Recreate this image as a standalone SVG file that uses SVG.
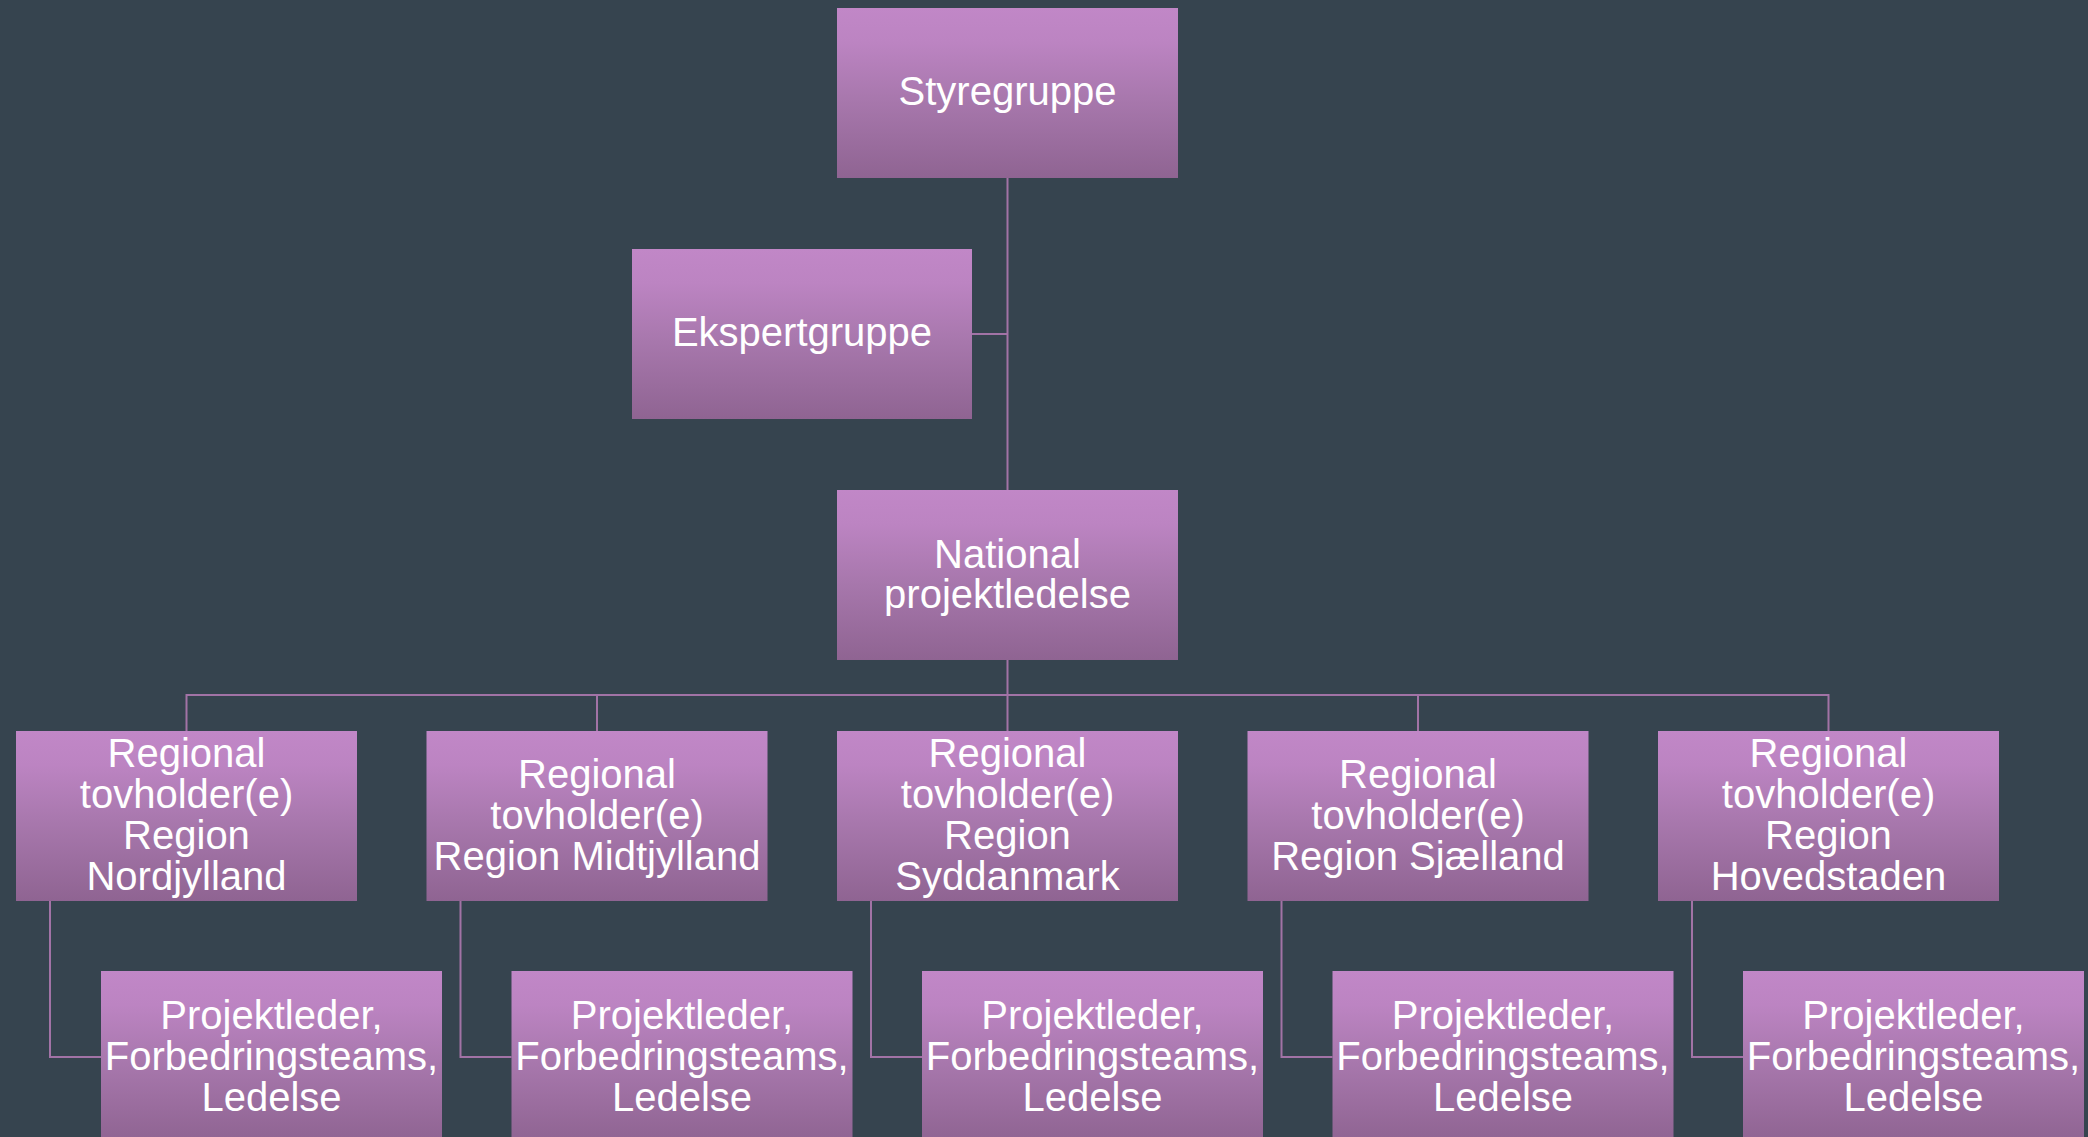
<svg xmlns="http://www.w3.org/2000/svg" width="2088" height="1137" viewBox="0 0 2088 1137">
<defs>
<linearGradient id="g" x1="0" y1="0" x2="0" y2="1">
<stop offset="0" stop-color="#C187C7"/>
<stop offset="0.2" stop-color="#BC84C2"/>
<stop offset="0.55" stop-color="#A777AC"/>
<stop offset="1" stop-color="#8F6492"/>
</linearGradient>
<style>
.box{fill:url(#g);}
.t{font-family:"Liberation Sans",Arial,sans-serif;font-size:40px;fill:#FFFFFF;text-anchor:middle;}
.c{stroke:#A273A6;stroke-width:2;fill:none;}
</style>
</defs>
<rect width="2088" height="1137" fill="#36444F"/>
<g id="connectors">
<path class="c" d="M1007.5 178 V490"/>
<path class="c" d="M972 334 H1007.5"/>
<path class="c" d="M1007.5 660 V695"/>
<path class="c" d="M186.5 731 V695 H1828.5 V731"/>
<path class="c" d="M597 695 V731"/>
<path class="c" d="M1007.5 695 V731"/>
<path class="c" d="M1418 695 V731"/>
<path class="c" d="M50 901 V1057 H101"/>
<path class="c" d="M460.5 901 V1057 H511.5"/>
<path class="c" d="M871 901 V1057 H922"/>
<path class="c" d="M1281.5 901 V1057 H1332.5"/>
<path class="c" d="M1692 901 V1057 H1743"/>
</g>
<g id="styregruppe">
<rect class="box" x="837" y="8" width="341" height="170"/>
<text class="t" x="1007.5" y="105">Styregruppe</text>
</g>
<g id="ekspertgruppe">
<rect class="box" x="632" y="249" width="340" height="170"/>
<text class="t" x="802" y="346">Ekspertgruppe</text>
</g>
<g id="national">
<rect class="box" x="837" y="490" width="341" height="170"/>
<text class="t" x="1007.5" y="568">National</text>
<text class="t" x="1007.5" y="608">projektledelse</text>
</g>
<g id="region-nordjylland">
<rect class="box" x="16" y="731" width="341" height="170"/>
<text class="t" x="186.5" y="767">Regional</text>
<text class="t" x="186.5" y="808">tovholder(e)</text>
<text class="t" x="186.5" y="849">Region</text>
<text class="t" x="186.5" y="890">Nordjylland</text>
</g>
<g id="region-midtjylland">
<rect class="box" x="426.5" y="731" width="341" height="170"/>
<text class="t" x="597" y="788">Regional</text>
<text class="t" x="597" y="829">tovholder(e)</text>
<text class="t" x="597" y="870">Region Midtjylland</text>
</g>
<g id="region-syddanmark">
<rect class="box" x="837" y="731" width="341" height="170"/>
<text class="t" x="1007.5" y="767">Regional</text>
<text class="t" x="1007.5" y="808">tovholder(e)</text>
<text class="t" x="1007.5" y="849">Region</text>
<text class="t" x="1007.5" y="890">Syddanmark</text>
</g>
<g id="region-sjaelland">
<rect class="box" x="1247.5" y="731" width="341" height="170"/>
<text class="t" x="1418" y="788">Regional</text>
<text class="t" x="1418" y="829">tovholder(e)</text>
<text class="t" x="1418" y="870">Region Sjælland</text>
</g>
<g id="region-hovedstaden">
<rect class="box" x="1658" y="731" width="341" height="170"/>
<text class="t" x="1828.5" y="767">Regional</text>
<text class="t" x="1828.5" y="808">tovholder(e)</text>
<text class="t" x="1828.5" y="849">Region</text>
<text class="t" x="1828.5" y="890">Hovedstaden</text>
</g>
<g id="team-nordjylland">
<rect class="box" x="101" y="971" width="341" height="170"/>
<text class="t" x="271.5" y="1029">Projektleder,</text>
<text class="t" x="271.5" y="1070">Forbedringsteams,</text>
<text class="t" x="271.5" y="1111">Ledelse</text>
</g>
<g id="team-midtjylland">
<rect class="box" x="511.5" y="971" width="341" height="170"/>
<text class="t" x="682" y="1029">Projektleder,</text>
<text class="t" x="682" y="1070">Forbedringsteams,</text>
<text class="t" x="682" y="1111">Ledelse</text>
</g>
<g id="team-syddanmark">
<rect class="box" x="922" y="971" width="341" height="170"/>
<text class="t" x="1092.5" y="1029">Projektleder,</text>
<text class="t" x="1092.5" y="1070">Forbedringsteams,</text>
<text class="t" x="1092.5" y="1111">Ledelse</text>
</g>
<g id="team-sjaelland">
<rect class="box" x="1332.5" y="971" width="341" height="170"/>
<text class="t" x="1503" y="1029">Projektleder,</text>
<text class="t" x="1503" y="1070">Forbedringsteams,</text>
<text class="t" x="1503" y="1111">Ledelse</text>
</g>
<g id="team-hovedstaden">
<rect class="box" x="1743" y="971" width="341" height="170"/>
<text class="t" x="1913.5" y="1029">Projektleder,</text>
<text class="t" x="1913.5" y="1070">Forbedringsteams,</text>
<text class="t" x="1913.5" y="1111">Ledelse</text>
</g>
</svg>
